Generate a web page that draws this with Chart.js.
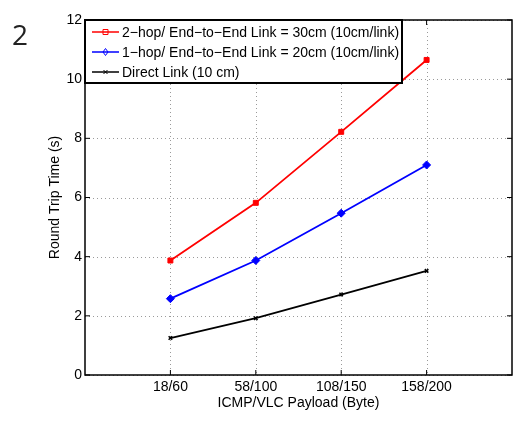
<!DOCTYPE html>
<html>
<head>
<meta charset="utf-8">
<script src="https://cdn.jsdelivr.net/npm/chart.js@4"></script>
<style>
  html, body { margin: 0; padding: 0; background: #fff; }
  #wrap { width: 522px; height: 424px; position: relative; }
</style>
</head>
<body>
<div id="wrap"><canvas id="rtt"></canvas></div>
<script>
// data
var payloads = ["18/60", "58/100", "108/150", "158/200"];
var hop2 = [3.87, 5.82, 8.22, 10.65];
var hop1 = [2.58, 3.87, 5.47, 7.10];
var direct = [1.25, 1.92, 2.72, 3.52];
var seriesNames = [
	"2\u2212hop/ End\u2212to\u2212End Link = 30cm (10cm/link)",
	"1\u2212hop/ End\u2212to\u2212End Link = 20cm (10cm/link)",
	"Direct Link (10 cm)"
];
var yTicks = [0, 2, 4, 6, 8, 10, 12];

var FONT = "'Liberation Sans', Arial, sans-serif";

function pts(arr){
	return arr.map(function(v, i){ return { x: i + 1, y: v }; });
}

// dotted grid under the lines
var gridPlugin = {
	id: 'dotgrid',
	beforeDatasetsDraw: function(chart){
		var ctx = chart.ctx;
		var a = chart.chartArea;
		var xs = chart.scales.x, ys = chart.scales.y;
		ctx.save();
		ctx.strokeStyle = '#9a9a9a';
		ctx.lineWidth = 1;
		ctx.setLineDash([1, 3]);
		ctx.beginPath();
		yTicks.forEach(function(v){
			var py = Math.round(ys.getPixelForValue(v)) + 0.5;
			ctx.moveTo(a.left, py); ctx.lineTo(a.right, py);
		});
		for (var i = 1; i <= payloads.length; i++){
			var px = Math.round(xs.getPixelForValue(i)) + 0.5;
			ctx.moveTo(px, a.top); ctx.lineTo(px, a.bottom);
		}
		ctx.stroke();
		ctx.restore();
	}
};

// box, inner ticks, legend, axis titles and panel label
var framePlugin = {
	id: 'frame',
	afterDraw: function(chart){
		var ctx = chart.ctx;
		var a = chart.chartArea;
		var xs = chart.scales.x, ys = chart.scales.y;
		ctx.save();
		ctx.strokeStyle = '#000';
		ctx.lineWidth = 1.5;
		ctx.strokeRect(a.left, a.top, a.right - a.left, a.bottom - a.top);

		// inward tick marks
		ctx.lineWidth = 1;
		ctx.beginPath();
		yTicks.forEach(function(v){
			var py = ys.getPixelForValue(v);
			ctx.moveTo(a.left, py); ctx.lineTo(a.left + 5, py);
			ctx.moveTo(a.right, py); ctx.lineTo(a.right - 5, py);
		});
		for (var i = 1; i <= payloads.length; i++){
			var px = xs.getPixelForValue(i);
			ctx.moveTo(px, a.bottom); ctx.lineTo(px, a.bottom - 5);
			ctx.moveTo(px, a.top); ctx.lineTo(px, a.top + 5);
		}
		ctx.stroke();

		// legend box
		var lx = a.left, ly = a.top, lw = 317, lh = 63;
		ctx.fillStyle = '#fff';
		ctx.fillRect(lx, ly, lw, lh);
		ctx.lineWidth = 2;
		ctx.strokeRect(lx, ly, lw, lh);
		ctx.font = '14px ' + FONT;
		ctx.textBaseline = 'middle';
		chart.data.datasets.forEach(function(ds, k){
			var ry = ly + 12 + k * 20;
			ctx.strokeStyle = ds.borderColor;
			ctx.lineWidth = 1.5;
			ctx.beginPath();
			ctx.moveTo(lx + 7, ry); ctx.lineTo(lx + 34, ry);
			ctx.stroke();
			ctx.lineWidth = 1;
			var cx = lx + 20.5;
			ctx.beginPath();
			if (ds.pointStyle === 'rect'){
				ctx.rect(cx - 2.5, ry - 2.5, 5, 5);
			} else if (ds.pointStyle === 'rectRot'){
				ctx.moveTo(cx, ry - 3.5); ctx.lineTo(cx + 2.5, ry);
				ctx.lineTo(cx, ry + 3.5); ctx.lineTo(cx - 2.5, ry); ctx.closePath();
			} else {
				ctx.moveTo(cx - 2, ry - 2); ctx.lineTo(cx + 2, ry + 2);
				ctx.moveTo(cx + 2, ry - 2); ctx.lineTo(cx - 2, ry + 2);
			}
			ctx.stroke();
			ctx.fillStyle = '#000';
			ctx.textAlign = 'left';
			ctx.fillText(ds.label, lx + 37, ry + 1);
		});

		// axis titles
		ctx.fillStyle = '#000';
		ctx.font = '14px ' + FONT;
		ctx.textAlign = 'center';
		ctx.textBaseline = 'middle';
		ctx.fillText('ICMP/VLC Payload (Byte)', (a.left + a.right) / 2, 403);
		ctx.save();
		ctx.translate(55, (a.top + a.bottom) / 2);
		ctx.rotate(-Math.PI / 2);
		ctx.fillText('Round Trip Time (s)', 0, 0);
		ctx.restore();

		// panel number
		ctx.font = '28px "Open Sans", sans-serif';
		ctx.textAlign = 'left';
		ctx.textBaseline = 'alphabetic';
		ctx.fillStyle = '#222';
		ctx.fillText('2', 12, 45);
		ctx.restore();
	}
};

new Chart(document.getElementById('rtt'), {
	type: 'line',
	data: {
		datasets: [
			{
				label: seriesNames[0],
				data: pts(hop2),
				borderColor: '#ff0000',
				backgroundColor: '#ff0000',
				borderWidth: 1.8,
				pointStyle: 'rect',
				pointRadius: 3.5,
				pointBorderWidth: 1
			},
			{
				label: seriesNames[1],
				data: pts(hop1),
				borderColor: '#0000ff',
				backgroundColor: '#0000ff',
				borderWidth: 1.8,
				pointStyle: 'rectRot',
				pointRadius: 4,
				pointBorderWidth: 1
			},
			{
				label: seriesNames[2],
				data: pts(direct),
				borderColor: '#000000',
				backgroundColor: '#000000',
				borderWidth: 1.8,
				pointStyle: 'crossRot',
				pointRadius: 2.5,
				pointBorderWidth: 1.5
			}
		]
	},
	options: {
		responsive: true,
		maintainAspectRatio: false,
		animation: false,
		events: [],
		layout: { padding: { left: 0, top: 20, right: 10, bottom: 0 } },
		plugins: {
			legend: { display: false },
			tooltip: { enabled: false }
		},
		scales: {
			x: {
				type: 'linear',
				min: 0,
				max: 5,
				afterFit: function(s){ s.height = 49; },
				ticks: {
					stepSize: 1,
					autoSkip: false,
					maxRotation: 0,
					color: '#000',
					padding: 4,
					font: { family: FONT, size: 14 },
					callback: function(v){ return payloads[v - 1] || ''; }
				},
				grid: { display: false, drawTicks: false },
				border: { display: false }
			},
			y: {
				min: 0,
				max: 12,
				afterFit: function(s){ s.width = 85; },
				ticks: {
					stepSize: 2,
					color: '#000',
					padding: 3,
					font: { family: FONT, size: 14 }
				},
				grid: { display: false, drawTicks: false },
				border: { display: false }
			}
		}
	},
	plugins: [gridPlugin, framePlugin]
});
</script>
</body>
</html>
